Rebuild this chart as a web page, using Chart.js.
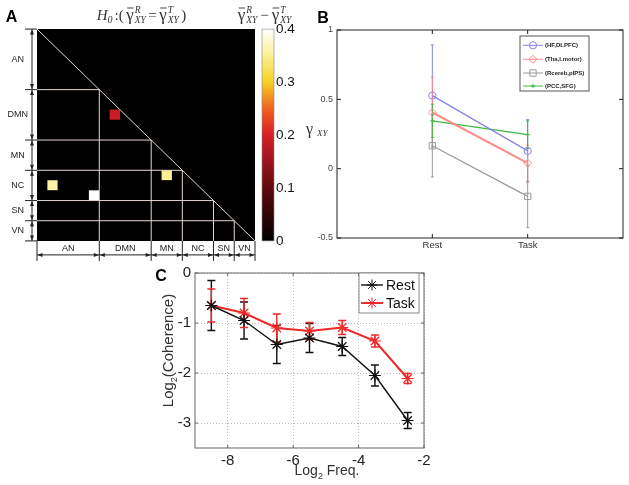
<!DOCTYPE html>
<html><head><meta charset="utf-8">
<script src="https://cdn.jsdelivr.net/npm/chart.js@4/dist/chart.umd.min.js"></script>
<style>
body{margin:0;background:#fff;width:629px;height:485px;position:relative;overflow:hidden}
.p{position:absolute}
</style></head><body>
<div class="p" style="left:0;top:0;width:300px;height:270px"><canvas id="cA"></canvas></div>
<div class="p" style="left:300px;top:0;width:329px;height:270px"><canvas id="cB"></canvas></div>
<div class="p" style="left:150px;top:260px;width:290px;height:225px"><canvas id="cC"></canvas></div>
<script>
// ---------- DATA ----------
// Panel A: network groups and significant cells
const groupNames = ['AN','DMN','MN','NC','SN','VN'];
const groupSizes = [6,5,3,3,2,2];
const cellRows = [8,14,15,16];
const cellCols = [7,12,1,5];
const cellValues = [0.19,0.35,0.36,0.40];
const colorbarTicks = [0,0.1,0.2,0.3,0.4];
// Panel B
const conditions = ['Rest','Task'];
const pairNames = ['(HF,DLPFC)','(Tha,l.motor)','(Rcereb,pIPS)','(PCC,SFG)'];
const hfDlpfc = [0.527,0.128];   const hfDlpfcErr = [0.365,0.225];
const thaMotor = [0.405,0.040];  const thaMotorErr = [0.255,0.13];
const rcerebPips = [0.165,-0.200]; const rcerebPipsErr = [0.225,0.225];
const pccSfg = [0.345,0.245];    const pccSfgErr = [0.12,0.10];
const bYTicks = [-0.5,0,0.5,1];
// Panel C
const log2Freq = [-8.5,-7.5,-6.5,-5.5,-4.5,-3.5,-2.5];
const restCoh = [-0.65,-0.95,-1.43,-1.30,-1.47,-2.05,-2.95];
const restErr = [0.50,0.37,0.38,0.29,0.18,0.21,0.16];
const taskCoh = [-0.65,-0.80,-1.10,-1.16,-1.09,-1.36,-2.11];
const taskErr = [0.33,0.29,0.28,0.17,0.14,0.12,0.10];
const cXTicks = [-8,-6,-4,-2];
const cYTicks = [-3,-2,-1,0];

// ---------- helpers ----------
Chart.defaults.font.family = '"Liberation Sans", Arial, sans-serif';
Chart.defaults.animation = false;
const SERIF = '"Liberation Serif", "DejaVu Serif", serif';
const hotStops = [[0,[0,0,0]],[0.25,[95,10,15]],[0.5,[215,30,40]],[0.62,[240,95,30]],[0.75,[245,210,35]],[0.88,[250,240,150]],[1,[255,255,255]]];
function hot(t){
  t=Math.max(0,Math.min(1,t));
  for(let i=1;i<hotStops.length;i++){
    if(t<=hotStops[i][0]){
      const [t0,c0]=hotStops[i-1],[t1,c1]=hotStops[i];const f=(t-t0)/(t1-t0);
      return 'rgb('+c0.map((c,k)=>Math.round(c+(c1[k]-c)*f)).join(',')+')';
    }
  }
  return 'rgb(255,255,255)';
}
const GF='17px '+SERIF, SF='italic 9.5px '+SERIF;
function partW(ctx,p){
  const gap=p.gap||0;
  if(p.g){ctx.font=GF;const w1=ctx.measureText('γ').width;ctx.font=SF;
    return w1+1+Math.max(ctx.measureText(p.sup).width,ctx.measureText(p.sub).width)+gap;}
  ctx.font=p.f;return ctx.measureText(p.t).width+gap;
}
function richW(ctx,parts){return parts.reduce((s,p)=>s+partW(ctx,p),0);}
function drawRich(ctx,x,y,parts){
  ctx.textAlign='left';ctx.textBaseline='alphabetic';
  parts.forEach(p=>{
    const w=partW(ctx,p);
    if(p.g){
      ctx.font=GF;const w1=ctx.measureText('γ').width;ctx.fillText('γ',x,y);
      ctx.beginPath();ctx.moveTo(x+1,y-12);ctx.lineTo(x+w1,y-12);ctx.lineWidth=0.9;ctx.stroke();
      ctx.font=SF;ctx.fillText(p.sup,x+w1+1,y-7);ctx.fillText(p.sub,x+w1+1,y+2.5);
    } else {ctx.font=p.f;ctx.fillText(p.t,x,y+(p.dy||0));}
    x+=w;
  });
}
function marker(ctx,style,x,y,r,col,lw){
  ctx.save();ctx.strokeStyle=col;ctx.lineWidth=lw;ctx.beginPath();
  if(style==='circle'){ctx.arc(x,y,r,0,Math.PI*2);}
  else if(style==='rect'){const s=r*Math.SQRT1_2;ctx.rect(x-s,y-s,2*s,2*s);}
  else if(style==='rectRot'){ctx.moveTo(x-r,y);ctx.lineTo(x,y-r);ctx.lineTo(x+r,y);ctx.lineTo(x,y+r);ctx.closePath();}
  else if(style==='cross'){ctx.moveTo(x-r,y);ctx.lineTo(x+r,y);ctx.moveTo(x,y-r);ctx.lineTo(x,y+r);}
  else if(style==='star'){ctx.moveTo(x-r,y);ctx.lineTo(x+r,y);ctx.moveTo(x,y-r);ctx.lineTo(x,y+r);
    const d=r*Math.SQRT1_2;ctx.moveTo(x-d,y-d);ctx.lineTo(x+d,y+d);ctx.moveTo(x-d,y+d);ctx.lineTo(x+d,y-d);}
  ctx.stroke();ctx.restore();
}
function arrowHead(ctx,x,y,ang){
  const L=5,W=2;ctx.beginPath();ctx.moveTo(x,y);
  ctx.lineTo(x-L*Math.cos(ang)+W*Math.sin(ang),y-L*Math.sin(ang)-W*Math.cos(ang));
  ctx.lineTo(x-L*Math.cos(ang)-W*Math.sin(ang),y-L*Math.sin(ang)+W*Math.cos(ang));
  ctx.closePath();ctx.fill();
}
const errPlug={id:'errbars',
  beforeDatasetsDraw(chart,args,opts){
    const ctx=chart.ctx;
    chart.data.datasets.forEach((ds,i)=>{
      if(!ds.errors)return;
      const meta=chart.getDatasetMeta(i);const ys=chart.scales[meta.yAxisID];
      ctx.save();ctx.strokeStyle=ds.errColor||ds.borderColor;ctx.lineWidth=opts.lineWidth;
      meta.data.forEach((pt,j)=>{
        const v=ds.data[j].y,e=ds.errors[j];
        const y1=ys.getPixelForValue(v+e),y2=ys.getPixelForValue(v-e),c=opts.cap/2;
        ctx.beginPath();ctx.moveTo(pt.x,y1);ctx.lineTo(pt.x,y2);
        ctx.moveTo(pt.x-c,y1);ctx.lineTo(pt.x+c,y1);ctx.moveTo(pt.x-c,y2);ctx.lineTo(pt.x+c,y2);ctx.stroke();
      });
      ctx.restore();
    });
  }};
const fixTicks=(arr)=>(s)=>{s.ticks=arr.map(v=>({value:v}));};
const noGrid={display:false,drawTicks:false};

// ---------- Panel A ----------
const N=groupSizes.reduce((a,b)=>a+b,0);
const bounds=[0];groupSizes.forEach(s=>bounds.push(bounds[bounds.length-1]+s));
const centers=groupSizes.map((s,i)=>bounds[i]+s/2);
const matrix=[];for(let r=0;r<N;r++){matrix.push(new Array(N).fill(0));}
cellRows.forEach((r,k)=>{matrix[r][cellCols[k]]=cellValues[k];});
const cells=[];for(let r=0;r<N;r++)for(let c=0;c<N;c++)cells.push({x:c+0.5,y:r+0.5,v:matrix[r][c]});
const vmax=colorbarTicks[colorbarTicks.length-1];

const plugA={id:'plugA',
  beforeDatasetsDraw(chart){const {ctx,chartArea:a}=chart;ctx.save();ctx.fillStyle='#000';ctx.fillRect(a.left,a.top,a.right-a.left,a.bottom-a.top);ctx.restore();},
  afterDraw(chart){
    const {ctx,chartArea:a,scales:{x,y,yc}}=chart;
    const X=v=>x.getPixelForValue(v),Y=v=>y.getPixelForValue(v);
    ctx.save();
    ctx.strokeStyle='#e4d6cf';ctx.lineWidth=1;ctx.beginPath();
    ctx.moveTo(X(0),Y(0));ctx.lineTo(X(N),Y(N));
    for(let k=1;k<bounds.length-1;k++){const b=bounds[k];
      ctx.moveTo(X(0),Y(b));ctx.lineTo(X(b),Y(b));
      ctx.moveTo(X(b),Y(b));ctx.lineTo(X(b),Y(N));}
    ctx.stroke();
    // colorbar
    const cx0=a.right+7,cx1=a.right+19,yt=yc.getPixelForValue(vmax),yb=yc.getPixelForValue(0);
    const g=ctx.createLinearGradient(0,yb,0,yt);hotStops.forEach(([t,c])=>g.addColorStop(t,'rgb('+c.join(',')+')'));
    ctx.fillStyle=g;ctx.fillRect(cx0,yt,cx1-cx0,yb-yt);
    ctx.strokeStyle='#888';ctx.lineWidth=0.6;ctx.strokeRect(cx0,yt,cx1-cx0,yb-yt);
    // left arrows
    ctx.strokeStyle='#222';ctx.fillStyle='#222';ctx.lineWidth=1;
    const ax=a.left-5;ctx.beginPath();
    bounds.forEach(b=>{ctx.moveTo(a.left-12,Y(b));ctx.lineTo(a.left,Y(b));});
    ctx.moveTo(ax,Y(0));ctx.lineTo(ax,Y(N));ctx.stroke();
    for(let k=0;k<groupSizes.length;k++){arrowHead(ctx,ax,Y(bounds[k])+0.5,-Math.PI/2);arrowHead(ctx,ax,Y(bounds[k+1])-0.5,Math.PI/2);}
    // bottom arrows
    const ay=a.bottom+14;ctx.beginPath();
    bounds.forEach(b=>{ctx.moveTo(X(b),a.bottom);ctx.lineTo(X(b),a.bottom+20);});
    ctx.moveTo(X(0),ay);ctx.lineTo(X(N),ay);ctx.stroke();
    for(let k=0;k<groupSizes.length;k++){arrowHead(ctx,X(bounds[k])+0.5,ay,Math.PI);arrowHead(ctx,X(bounds[k+1])-0.5,ay,0);}
    // titles
    ctx.fillStyle='#333';ctx.strokeStyle='#333';
    const t1=[{t:'H',f:'italic 15px '+SERIF},{t:'0',f:'italic 10px '+SERIF,dy:3,gap:2},{t:':(',f:'15px '+SERIF,gap:2.5},{g:1,sup:'R',sub:'XY',gap:2.5},{t:'=',f:'15px '+SERIF,gap:2.5},{g:1,sup:'T',sub:'XY',gap:2.5},{t:')',f:'15px '+SERIF}];
    drawRich(ctx,141.5-richW(ctx,t1)/2,20,t1);
    const t2=[{g:1,sup:'R',sub:'XY',gap:3},{t:'−',f:'15px '+SERIF,gap:3},{g:1,sup:'T',sub:'XY'}];
    drawRich(ctx,264.5-richW(ctx,t2)/2,20,t2);
    ctx.fillStyle='#000';ctx.font='bold 16px "Liberation Sans", Arial';ctx.textAlign='center';ctx.textBaseline='middle';
    ctx.fillText('A',11.5,17.5);
    ctx.restore();
  }};

new Chart(document.getElementById('cA'),{
  type:'scatter',
  data:{datasets:[{data:cells,pointStyle:'rect',pointRadius:7.35,pointHoverRadius:7.35,borderWidth:0,pointBorderWidth:0,
    pointBackgroundColor:(c)=>hot(c.raw?c.raw.v/vmax:0)}]},
  options:{responsive:true,maintainAspectRatio:false,
    layout:{padding:{left:0,top:28,right:0,bottom:0}},
    plugins:{legend:{display:false},tooltip:{enabled:false}},
    scales:{
      x:{type:'linear',position:'bottom',min:0,max:N,grid:noGrid,border:{display:false},
        afterBuildTicks:fixTicks(centers),afterFit:s=>{s.height=27;},
        ticks:{autoSkip:false,maxRotation:0,padding:2,color:'#222',font:{size:9},callback:(v,i)=>groupNames[i]}},
      y:{type:'linear',position:'left',min:0,max:N,reverse:true,grid:noGrid,border:{display:false},
        afterBuildTicks:fixTicks(centers),afterFit:s=>{s.width=37;},
        ticks:{autoSkip:false,crossAlign:'center',padding:9,color:'#222',font:{size:9},callback:(v,i)=>groupNames[i]}},
      yc:{type:'linear',position:'right',min:0,max:vmax,grid:noGrid,border:{display:false},
        afterBuildTicks:fixTicks(colorbarTicks),afterFit:s=>{s.width=45;},
        ticks:{padding:21,color:'#111',font:{size:13.5},callback:v=>String(Number(v.toFixed(2)))}}
    }},
  plugins:[plugA]
});

// ---------- Panel B ----------
const bSeries=[
  {vals:hfDlpfc,err:hfDlpfcErr,color:'#8585e6',style:'circle',r:3.6,lw:1.3},
  {vals:thaMotor,err:thaMotorErr,color:'#ff8a8a',style:'rectRot',r:4,lw:2},
  {vals:rcerebPips,err:rcerebPipsErr,color:'#9a9a9a',style:'rect',r:4.5,lw:1.3},
  {vals:pccSfg,err:pccSfgErr,color:'#3fb83f',style:'cross',r:2.2,lw:1.3}
];
const plugB={id:'plugB',
  afterDraw(chart){
    const {ctx,chartArea:a,scales:{x,y}}=chart;
    ctx.save();
    ctx.strokeStyle='#222';ctx.lineWidth=1;ctx.strokeRect(a.left,a.top,a.right-a.left,a.bottom-a.top);
    ctx.beginPath();
    [1,2].forEach(v=>{const px=x.getPixelForValue(v);ctx.moveTo(px,a.bottom);ctx.lineTo(px,a.bottom-4);ctx.moveTo(px,a.top);ctx.lineTo(px,a.top+4);});
    bYTicks.forEach(v=>{const py=y.getPixelForValue(v);ctx.moveTo(a.left,py);ctx.lineTo(a.left+4,py);ctx.moveTo(a.right,py);ctx.lineTo(a.right-4,py);});
    ctx.stroke();
    // legend
    const lx=220,ly=36,lw=69,lh=55;
    ctx.fillStyle='#fff';ctx.fillRect(lx,ly,lw,lh);ctx.strokeStyle='#555';ctx.strokeRect(lx,ly,lw,lh);
    const rows=[45.3,59.3,73,86];
    bSeries.forEach((s,i)=>{
      ctx.strokeStyle=s.color;ctx.lineWidth=1;ctx.beginPath();ctx.moveTo(223,rows[i]);ctx.lineTo(243,rows[i]);ctx.stroke();
      marker(ctx,s.style,233,rows[i],s.r,s.color,1);
      ctx.fillStyle='#222';ctx.font='bold 6px "Liberation Sans", Arial';ctx.textAlign='left';ctx.textBaseline='middle';
      ctx.fillText(pairNames[i],245,rows[i]);
    });
    // y title
    ctx.fillStyle='#333';ctx.textAlign='left';ctx.textBaseline='alphabetic';
    ctx.font='16px '+SERIF;ctx.fillText('γ',6,134);
    ctx.font='italic 9px '+SERIF;ctx.fillText('XY',17,136);
    ctx.fillStyle='#000';ctx.font='bold 16px "Liberation Sans", Arial';ctx.textAlign='center';ctx.textBaseline='middle';
    ctx.fillText('B',23,18.5);
    ctx.restore();
  }};
new Chart(document.getElementById('cB'),{
  type:'line',
  data:{datasets:bSeries.map((s,i)=>({label:pairNames[i],data:s.vals.map((v,j)=>({x:j+1,y:v})),errors:s.err,
    borderColor:s.color,borderWidth:s.lw,pointStyle:s.style,pointRadius:s.r,pointHoverRadius:s.r,
    pointBorderColor:s.color,pointBackgroundColor:'rgba(0,0,0,0)',pointBorderWidth:1,fill:false,tension:0}))},
  options:{responsive:true,maintainAspectRatio:false,
    layout:{padding:{left:0,top:30,right:6,bottom:0}},
    plugins:{legend:{display:false},tooltip:{enabled:false},errbars:{lineWidth:1,cap:3}},
    scales:{
      x:{type:'linear',min:0,max:3,grid:noGrid,border:{display:false},
        afterBuildTicks:fixTicks(conditions.map((c,i)=>i+1)),afterFit:s=>{s.height=32;},
        ticks:{padding:2,color:'#333',font:{size:9.5},callback:(v,i)=>conditions[i]}},
      y:{type:'linear',min:-0.5,max:1,grid:noGrid,border:{display:false},
        afterBuildTicks:fixTicks(bYTicks),afterFit:s=>{s.width=37;},
        ticks:{padding:4,color:'#444',font:{size:9},callback:v=>String(v)}}
    }},
  plugins:[errPlug,plugB]
});

// ---------- Panel C ----------
const cSeries=[
  {label:'Rest',vals:restCoh,err:restErr,color:'#111111',lw:1.4},
  {label:'Task',vals:taskCoh,err:taskErr,color:'#f02828',lw:2}
];
const plugC={id:'plugC',
  afterDraw(chart){
    const {ctx,chartArea:a,scales:{x,y}}=chart;
    ctx.save();
    ctx.strokeStyle='#666';ctx.lineWidth=1;ctx.strokeRect(a.left,a.top,a.right-a.left,a.bottom-a.top);
    ctx.beginPath();
    cXTicks.forEach(v=>{const px=x.getPixelForValue(v);ctx.moveTo(px,a.bottom);ctx.lineTo(px,a.bottom-3);ctx.moveTo(px,a.top);ctx.lineTo(px,a.top+3);});
    cYTicks.forEach(v=>{const py=y.getPixelForValue(v);ctx.moveTo(a.left,py);ctx.lineTo(a.left+3,py);ctx.moveTo(a.right,py);ctx.lineTo(a.right-3,py);});
    ctx.stroke();
    // legend
    const lx=209,ly=13,lw=60,lh=40;
    ctx.fillStyle='#fff';ctx.fillRect(lx,ly,lw,lh);ctx.strokeStyle='#888';ctx.strokeRect(lx,ly,lw,lh);
    const rows=[25,43];
    cSeries.forEach((s,i)=>{
      ctx.strokeStyle=s.color;ctx.lineWidth=s.lw;ctx.beginPath();ctx.moveTo(211,rows[i]);ctx.lineTo(233,rows[i]);ctx.stroke();
      marker(ctx,'star',222,rows[i],5.5,s.color,1);
      ctx.fillStyle='#111';ctx.font='14px "Liberation Sans", Arial';ctx.textAlign='left';ctx.textBaseline='middle';
      ctx.fillText(s.label,236,rows[i]+1);
    });
    // x title
    ctx.fillStyle='#333';ctx.textBaseline='alphabetic';
    const xt=[{t:'Log',f:'14px "Liberation Sans", Arial'},{t:'2',f:'9px "Liberation Sans", Arial',dy:4},{t:' Freq.',f:'14px "Liberation Sans", Arial'}];
    drawRich(ctx,177-richW(ctx,xt)/2,215,xt);
    // y title (rotated)
    const yt=[{t:'Log',f:'15px "Liberation Sans", Arial'},{t:'2',f:'9px "Liberation Sans", Arial',dy:4},{t:'(Coherence)',f:'15px "Liberation Sans", Arial'}];
    ctx.translate(23,90.5);ctx.rotate(-Math.PI/2);
    drawRich(ctx,-richW(ctx,yt)/2,0,yt);
    ctx.setTransform(1,0,0,1,0,0);
    ctx.fillStyle='#000';ctx.font='bold 16px "Liberation Sans", Arial';ctx.textAlign='center';ctx.textBaseline='middle';
    ctx.fillText('C',11,17);
    ctx.restore();
  }};
new Chart(document.getElementById('cC'),{
  type:'line',
  data:{datasets:cSeries.map(s=>({label:s.label,data:s.vals.map((v,j)=>({x:log2Freq[j],y:v})),errors:s.err,
    borderColor:s.color,borderWidth:s.lw,pointStyle:'star',pointRadius:6,pointHoverRadius:6,
    pointBorderColor:s.color,pointBorderWidth:1.2,fill:false,tension:0}))},
  options:{responsive:true,maintainAspectRatio:false,
    layout:{padding:{left:0,top:11.5,right:16,bottom:0}},
    plugins:{legend:{display:false},tooltip:{enabled:false},errbars:{lineWidth:1.4,cap:8}},
    scales:{
      x:{type:'linear',min:-9,max:-2,border:{display:false,dash:[1,2]},
        grid:{color:'#b8bcc8',lineWidth:1,drawTicks:false},
        afterBuildTicks:fixTicks(cXTicks),afterFit:s=>{s.height=37;},
        ticks:{padding:4,color:'#222',font:{size:15},callback:v=>String(v)}},
      y:{type:'linear',min:-3.5,max:0,border:{display:false,dash:[1,2]},
        grid:{color:'#b8bcc8',lineWidth:1,drawTicks:false},
        afterBuildTicks:fixTicks(cYTicks),afterFit:s=>{s.width=45;},
        ticks:{padding:4,color:'#222',font:{size:15},callback:v=>String(v)}}
    }},
  plugins:[errPlug,plugC]
});
</script>
</body></html>
